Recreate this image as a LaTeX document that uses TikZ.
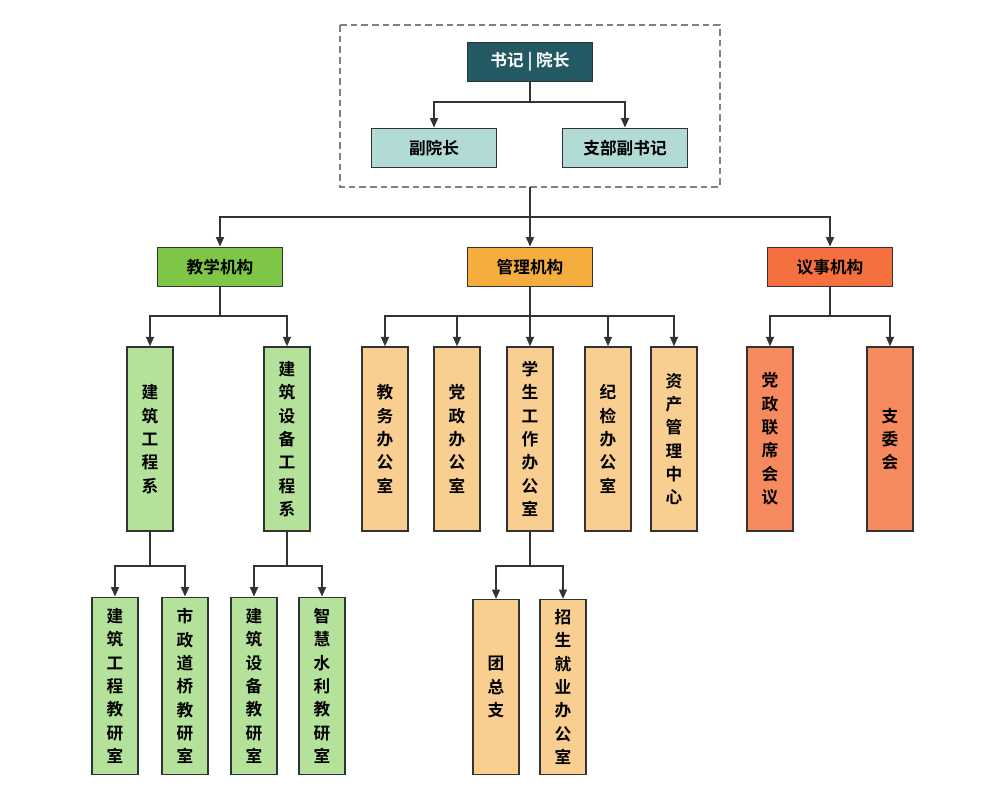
\documentclass[tikz,border=0pt]{standalone}
\usepackage{fontspec}
\setmainfont{Noto Sans CJK SC}[BoldFont={Noto Sans CJK SC Bold}]
\usetikzlibrary{arrows.meta}
\definecolor{dark}{HTML}{235963}
\definecolor{teal}{HTML}{B3DBD6}
\definecolor{gA}{HTML}{7DC646}
\definecolor{gB}{HTML}{B4E29A}
\definecolor{oA}{HTML}{F6AD3F}
\definecolor{oB}{HTML}{F8CF91}
\definecolor{rA}{HTML}{F5703E}
\definecolor{rB}{HTML}{F68A5E}
\begin{document}
\begin{tikzpicture}[x=0.75pt,y=-0.75pt,
  box/.style={draw=black!80,line width=1.2pt,font=\bfseries\fontsize{12.5}{14}\selectfont,inner sep=0pt},
  hbox/.style={box,minimum width=93.75pt,minimum height=29.5pt},
  vbox/.style={box,minimum width=34.5pt,align=center,font=\bfseries\fontsize{12.5}{17.5}\selectfont},
  arr/.style={draw=black!80,line width=1pt,-{Triangle[length=7pt,width=6pt]}},
  ln/.style={draw=black!80,line width=1pt}]
\useasboundingbox (0,0) rectangle (1006,800);
\draw[dashed,gray,line width=1pt,dash pattern=on 5pt off 3pt] (340,25) rectangle (720,187);
\node[hbox,fill=dark,text=white] (top) at (530,62) {书记 | 院长};
\node[hbox,fill=teal] (v1) at (434,148) {副院长};
\node[hbox,fill=teal] (v2) at (625,148) {支部副书记};
\coordinate (tb) at (530,102);
\draw[ln] (top.south) -- (tb);
\draw[arr] (tb) -| (v1.north);
\draw[arr] (tb) -| (v2.north);
\coordinate (boxb) at (530,187);
\coordinate (hb) at (530,217);
\node[hbox,fill=gA] (jx) at (220,267) {教学机构};
\node[hbox,fill=oA] (gl) at (530,267) {管理机构};
\node[hbox,fill=rA] (ys) at (830,267) {议事机构};
\draw[arr] (boxb) -- (gl.north);
\draw[arr] (hb) -| (jx.north);
\draw[arr] (hb) -| (ys.north);
% level 3
\node[vbox,fill=gB,minimum height=138pt] (a1) at (150,439) {建\\筑\\工\\程\\系};
\node[vbox,fill=gB,minimum height=138pt] (a2) at (287,439) {建\\筑\\设\\备\\工\\程\\系};
\node[vbox,fill=oB,minimum height=138pt] (b1) at (385,439) {教\\务\\办\\公\\室};
\node[vbox,fill=oB,minimum height=138pt] (b2) at (457,439) {党\\政\\办\\公\\室};
\node[vbox,fill=oB,minimum height=138pt] (b3) at (530,439) {学\\生\\工\\作\\办\\公\\室};
\node[vbox,fill=oB,minimum height=138pt] (b4) at (608,439) {纪\\检\\办\\公\\室};
\node[vbox,fill=oB,minimum height=138pt] (b5) at (674,439) {资\\产\\管\\理\\中\\心};
\node[vbox,fill=rB,minimum height=138pt] (c1) at (770,439) {党\\政\\联\\席\\会\\议};
\node[vbox,fill=rB,minimum height=138pt] (c2) at (890,439) {支\\委\\会};
\coordinate (jb) at (220,316);
\draw[ln] (jx.south) -- (jb);
\draw[arr] (jb) -| (a1.north); \draw[arr] (jb) -| (a2.north);
\coordinate (gb) at (530,316);
\draw[arr] (gl.south) -- (b3.north);
\foreach \n in {b1,b2,b4,b5} \draw[arr] (gb) -| (\n.north);
\coordinate (yb) at (830,316);
\draw[ln] (ys.south) -- (yb);
\draw[arr] (yb) -| (c1.north); \draw[arr] (yb) -| (c2.north);
% level 4
\node[vbox,fill=gB,minimum height=133pt] (d1) at (115,686) {建\\筑\\工\\程\\教\\研\\室};
\node[vbox,fill=gB,minimum height=133pt] (d2) at (185,686) {市\\政\\道\\桥\\教\\研\\室};
\node[vbox,fill=gB,minimum height=133pt] (d3) at (254,686) {建\\筑\\设\\备\\教\\研\\室};
\node[vbox,fill=gB,minimum height=133pt] (d4) at (322,686) {智\\慧\\水\\利\\教\\研\\室};
\node[vbox,fill=oB,minimum height=131pt] (e1) at (496,687) {团\\总\\支};
\node[vbox,fill=oB,minimum height=131pt] (e2) at (563,687) {招\\生\\就\\业\\办\\公\\室};
\coordinate (k1) at (150,566); \coordinate (k2) at (287,566); \coordinate (k3) at (530,566);
\draw[ln] (a1.south) -- (k1); \draw[arr] (k1) -| (d1.north); \draw[arr] (k1) -| (d2.north);
\draw[ln] (a2.south) -- (k2); \draw[arr] (k2) -| (d3.north); \draw[arr] (k2) -| (d4.north);
\draw[ln] (b3.south) -- (k3); \draw[arr] (k3) -| (e1.north); \draw[arr] (k3) -| (e2.north);
\end{tikzpicture}
\end{document}
